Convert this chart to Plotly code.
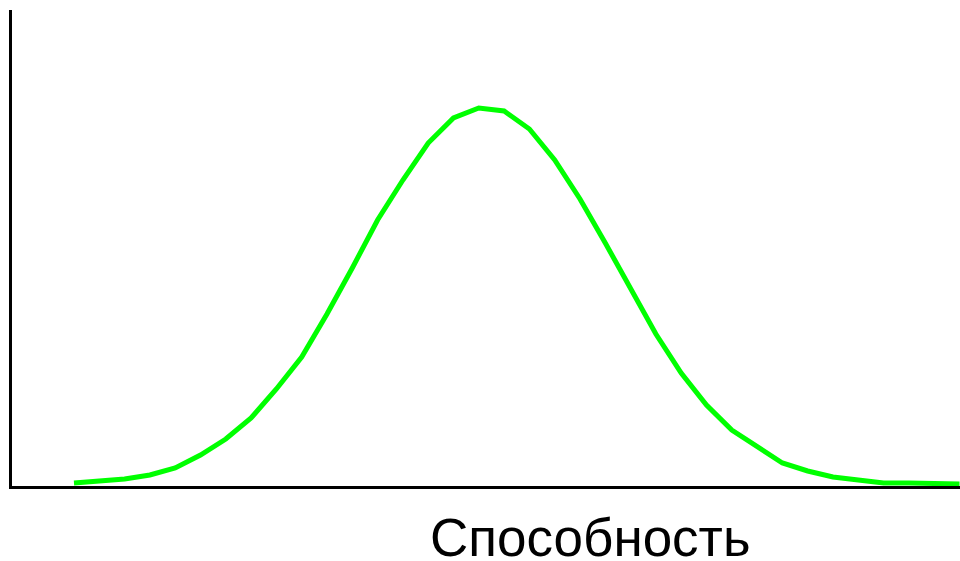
import plotly.graph_objects as go

# Ability scale: evenly spaced score points and the height of the distribution at each
score_points = list(range(36))
frequency = [
    3, 5, 7, 11, 18, 31, 47, 68, 97, 129,
    172, 218, 266, 306, 343, 368, 378, 375, 357, 326,
    287, 243, 198, 152, 113, 81, 56, 39, 23, 15,
    9, 6, 3, 3, 2, 2,
]
axis_label = "Способность"

fig = go.Figure(
    go.Scatter(
        x=score_points,
        y=frequency,
        mode="lines",
        line=dict(color="#00FF00", width=5),
        hoverinfo="skip",
    )
)

fig.update_layout(
    width=960,
    height=561,
    margin=dict(l=12, r=0, t=10, b=75),
    paper_bgcolor="white",
    plot_bgcolor="white",
    showlegend=False,
    font=dict(family="Liberation Sans, Arial, sans-serif", color="black"),
)

fig.update_xaxes(
    range=[-2.45, 35.02],
    showline=True,
    linecolor="black",
    linewidth=3,
    showgrid=False,
    zeroline=False,
    showticklabels=False,
    ticks="",
)
fig.update_yaxes(
    range=[0, 476],
    showline=True,
    linecolor="black",
    linewidth=3,
    showgrid=False,
    zeroline=False,
    showticklabels=False,
    ticks="",
)

fig.add_annotation(
    text=axis_label,
    xref="paper",
    yref="paper",
    x=(590.5 - 12) / 948,
    y=-(537 - 486) / 476,
    xanchor="center",
    yanchor="middle",
    showarrow=False,
    font=dict(size=53, color="black"),
)

fig.write_html("out.html")
